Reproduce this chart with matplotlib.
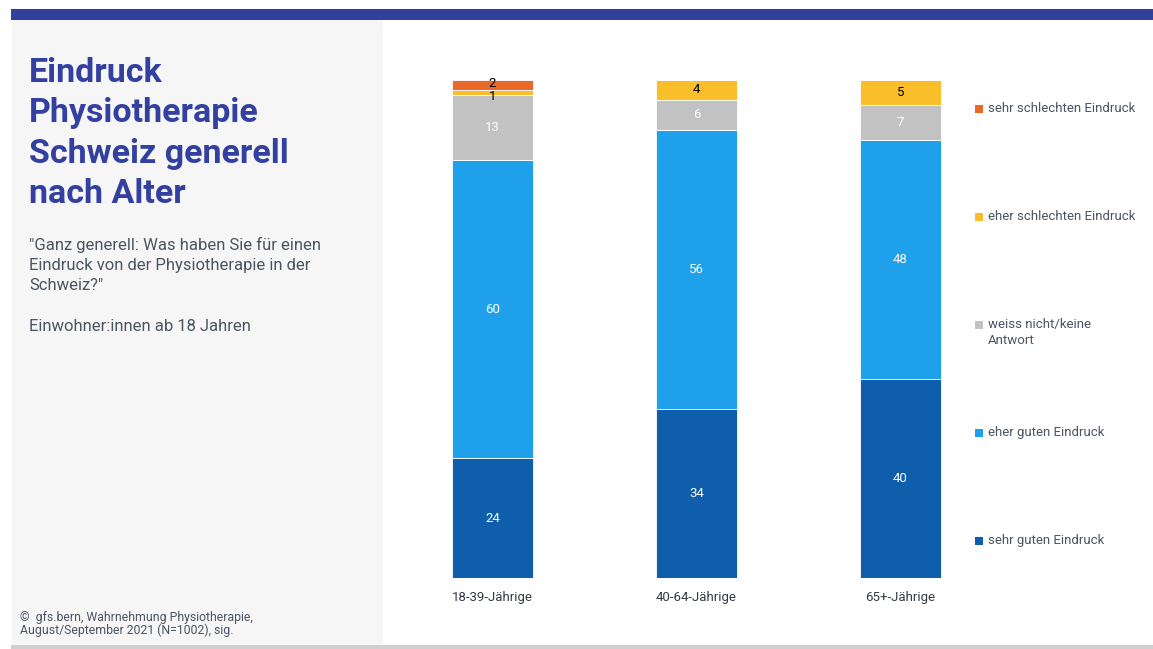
import matplotlib
matplotlib.use("Agg")
import matplotlib.pyplot as plt
from matplotlib.patches import Rectangle
import numpy as np

plt.rcParams['font.family'] = ['Roboto', 'DejaVu Sans']

groups = ["18-39-Jährige", "40-64-Jährige", "65+-Jährige"]
categories = ["sehr guten Eindruck", "eher guten Eindruck", "weiss nicht/keine\nAntwort",
              "eher schlechten Eindruck", "sehr schlechten Eindruck"]
sehr_gut = [24, 34, 40]
eher_gut = [60, 56, 48]
weiss_nicht = [13, 6, 7]
eher_schlecht = [1, 4, 5]
sehr_schlecht = [2, 0, 0]
series = [sehr_gut, eher_gut, weiss_nicht, eher_schlecht, sehr_schlecht]
colors = ["#0F5EAB", "#1FA0EA", "#C2C2C2", "#FBBE2B", "#E9692A"]
label_colors = ["white", "white", "white", "black", "black"]

W, H = 1153, 649
fig = plt.figure(figsize=(W / 100, H / 100), dpi=100)
fig.patch.set_facecolor("white")

# frame decorations: top band, left panel, bottom rule
fig.add_artist(Rectangle((11 / W, 1 - 20 / H), 1 - 11 / W, 11 / H, transform=fig.transFigure,
                         color="#32409C", lw=0))
fig.add_artist(Rectangle((12 / W, 4 / H), (383 - 12) / W, (629 - 4) / H, transform=fig.transFigure,
                         color="#F6F6F6", lw=0))
fig.add_artist(Rectangle((11 / W, 0), 1 - 11 / W, 4 / H, transform=fig.transFigure,
                         color="#CFCFCF", lw=0))

# titles and notes
fig.text(29 / W, 1 - 57 / H, "Eindruck\nPhysiotherapie\nSchweiz generell\nnach Alter",
         ha="left", va="top", fontsize=24.5, fontweight="bold", color="#3340A0", linespacing=1.33)
fig.text(29 / W, 1 - 237 / H, "\"Ganz generell: Was haben Sie für einen\nEindruck von der Physiotherapie in der\nSchweiz?\"",
         ha="left", va="top", fontsize=12, color="#4A5561", linespacing=1.4)
fig.text(29 / W, 1 - 319 / H, "Einwohner:innen ab 18 Jahren",
         ha="left", va="top", fontsize=12, color="#4A5561")
fig.text(20 / W, 1 - 611 / H, "©  gfs.bern, Wahrnehmung Physiotherapie,\nAugust/September 2021 (N=1002), sig.",
         ha="left", va="top", fontsize=8.8, color="#4A5561", linespacing=1.0)

# chart area
ax_left, ax_right = 390, 1000
ax_top, ax_bottom = 80, 578
ax = fig.add_axes([ax_left / W, 1 - ax_bottom / H, (ax_right - ax_left) / W, (ax_bottom - ax_top) / H])
x = np.arange(len(groups))
ax.set_xlim((ax_left - 492.5) / 204, (ax_right - 492.5) / 204)
ax.set_ylim(0, 100)
ax.axis("off")

bottom = np.zeros(len(groups))
for i, (vals, c) in enumerate(zip(series, colors)):
    vals = np.array(vals, dtype=float)
    ax.bar(x, vals, bottom=bottom, width=0.397, color=c, edgecolor="white", linewidth=0.6)
    for j, v in enumerate(vals):
        if v <= 0:
            continue
        yc = bottom[j] + v / 2
        dy = 0
        if v < 3:
            # keep tiny segment labels apart
            dy = 0.2 if i == 4 else -0.9
        ax.text(x[j], yc + dy, f"{int(v)}", ha="center", va="center",
                fontsize=9.5, color=label_colors[i])
    bottom += vals

for j, g in enumerate(groups):
    ax.text(x[j], -4.0, g, ha="center", va="center", fontsize=9.5, color="#333B44")

# legend
legend_y = [540, 432, 324, 216, 108]
for lab, c, yy in zip(categories, colors, legend_y):
    fig.add_artist(Rectangle((975 / W, 1 - (yy + 5) / H), 8 / W, 8 / H, transform=fig.transFigure,
                             color=c, lw=0))
    fig.text(988 / W, 1 - (yy - 6) / H, lab, ha="left", va="top", fontsize=9.5,
             color="#4A5561", linespacing=1.35)

fig.savefig("out.png", dpi=100, facecolor="white")
